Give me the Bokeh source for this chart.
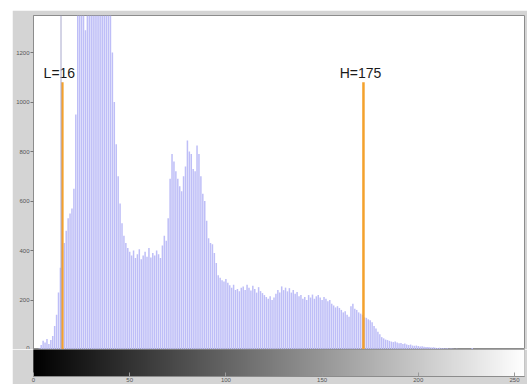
import numpy as np
from bokeh.plotting import figure
from bokeh.layouts import column
from bokeh.models import Range1d, FixedTicker, Span, ColumnDataSource
from bokeh.core.properties import value
from bokeh.palettes import Greys256
from bokeh.embed import file_html
from bokeh.resources import INLINE

# ---- data ----
bins = list(range(256))
counts = [
    0, 0, 0, 4, 18, 35, 28, 42, 22, 38, 55, 95, 140, 230,
    330, 400,
    430, 480, 530, 550, 570, 650, 950,
    1500, 1900, 2300, 2600, 1290, 2700, 2900, 3000, 2950, 2800, 2600, 2400, 2200, 2000, 1850, 1700, 1550, 1420, 1200,
    1000, 830, 700, 590, 510, 460, 430, 410,
    395, 380, 400, 370, 385, 405, 365, 380, 395, 375, 410, 372, 390, 380, 400, 385, 370, 420, 460, 440,
    530, 690, 790, 760, 720, 690, 660, 640, 700, 740, 845, 800, 790, 730, 720, 825, 790, 700, 630, 600,
    520, 450, 430, 425, 390, 350, 300, 290, 280, 275, 285, 270, 260, 250, 262, 240, 245, 235,
    250, 255, 240, 262, 250, 238, 258, 245, 230, 252, 236, 228, 220, 212, 205, 215, 200, 210, 225, 240,
    230, 255, 240, 250, 235, 248, 230, 240, 225, 232, 215, 220, 205, 212, 200, 220, 210, 222, 205, 215,
    220, 210, 200, 212, 205, 195, 200, 185, 178, 170, 175, 168, 160,
    150, 155, 140, 132, 175, 185, 165, 160, 150, 145, 140, 130, 128, 122, 118, 110, 95, 85, 72, 62, 50,
    45, 40, 38, 35, 32, 30, 32, 28, 25, 26, 22, 24, 20, 18, 20, 16, 15, 16, 14, 12,
    13, 11, 10, 10, 9, 8, 9, 7, 6, 7, 5, 5, 4, 5, 3, 4, 3, 2, 3, 2, 2, 1, 1, 1, 0, 2, 6, 2,
] + [0] * 26
assert len(counts) == 256

thr_x = [15, 171.5]          # threshold marker positions as drawn
thr_top = [1080, 1080]       # marker heights
thr_labels = ["L=16", "H=175"]
y_ticks = [0, 200, 400, 600, 800, 1000, 1200]
x_ticks = [0, 50, 100, 150, 200, 250]

BORDER = "#d4d4d4"
BAR = "#bebef7"
ORANGE = "#f4a12c"

x_range = Range1d(0, 255.2)

p = figure(width=515, height=339, title=None, x_range=x_range, y_range=Range1d(0, 1350),
           output_backend="svg", toolbar_location=None, x_axis_location=None,
           min_border_left=21, min_border_right=3, min_border_top=5, min_border_bottom=0)
p.border_fill_color = BORDER
p.background_fill_color = "white"
p.outline_line_color = "#8c8c8c"
p.grid.visible = False

p.vbar(x=bins, top=counts, width=0.78, fill_color=BAR, line_color=None)

p.add_layout(Span(location=thr_x[0] - 0.7, dimension="height", line_color="#a8a8cc", line_width=1))

src = ColumnDataSource(dict(x=thr_x, y0=[0, 0], y1=thr_top, label=thr_labels,
                            ty=[t + 6 for t in thr_top]))
p.segment(x0="x", y0="y0", x1="x", y1="y1", source=src, line_color=ORANGE, line_width=2.5)
p.text(x="x", y="ty", text="label", source=src, text_align="center", text_baseline="bottom",
       x_offset=-3, text_font=value("Liberation Sans"), text_font_size="14px", text_color="#1a1a1a")

ya = p.yaxis[0]
ya.ticker = FixedTicker(ticks=y_ticks)
ya.major_label_text_font_size = "6px"
ya.major_label_text_color = "#555555"
ya.major_tick_out = 3
ya.major_tick_in = 0
ya.minor_tick_out = 0
ya.minor_tick_in = 0
ya.major_label_standoff = 1
ya.axis_line_color = "#8c8c8c"
ya.major_tick_line_color = "#777777"

# colour bar strip underneath
c = figure(width=515, height=35, title=None, x_range=x_range, y_range=Range1d(0, 1),
           output_backend="svg", toolbar_location=None, y_axis_location=None,
           min_border_left=21, min_border_right=3, min_border_top=0, min_border_bottom=0)
c.border_fill_color = BORDER
c.outline_line_color = "#8c8c8c"
c.grid.visible = False
grad = np.arange(256).reshape(1, 256)
c.image(image=[grad], x=-0.5, y=0, dw=256, dh=1, palette=Greys256)
xa = c.xaxis[0]
xa.ticker = FixedTicker(ticks=x_ticks)
xa.major_label_text_font_size = "6px"
xa.major_label_text_color = "#555555"
xa.major_tick_out = 0
xa.major_tick_in = 4
xa.minor_tick_out = 0
xa.minor_tick_in = 0
xa.major_label_standoff = 1
xa.axis_line_color = "#8c8c8c"
xa.major_tick_line_color = "#999999"

layout = column(p, c, spacing=0, margin=(10, 0, 0, 12))
open("out.html", "w").write(file_html(layout, INLINE))
